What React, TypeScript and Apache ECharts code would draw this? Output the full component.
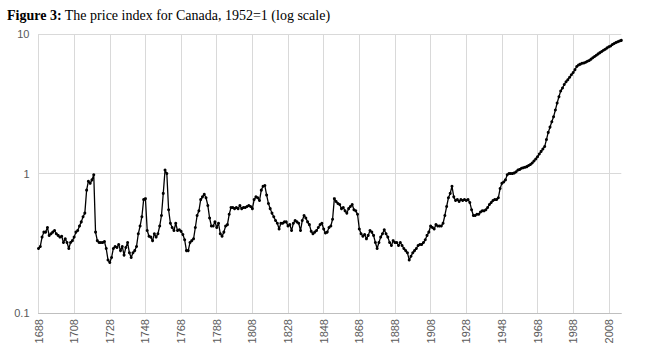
import React, { useEffect, useRef } from "react";
import * as echarts from "echarts";

const START_YEAR = 1688;

// Price index (1952 = 1), one value per year from 1688 to 2015
const priceIndex: number[] = [
  0.29, 0.30, 0.35, 0.38, 0.38, 0.41, 0.36, 0.37, 0.38, 0.39, // 1688-1697
  0.37, 0.36, 0.35, 0.355, 0.32, 0.34, 0.32, 0.29, 0.32, 0.33, // 1698-1707
  0.35, 0.38, 0.39, 0.42, 0.45, 0.49, 0.52, 0.76, 0.88, 0.85, // 1708-1717
  0.90, 0.98, 0.38, 0.33, 0.32, 0.32, 0.32, 0.325, 0.29, 0.24, // 1718-1727
  0.23, 0.25, 0.29, 0.30, 0.295, 0.31, 0.28, 0.30, 0.26, 0.295, // 1728-1737
  0.32, 0.27, 0.25, 0.27, 0.28, 0.30, 0.37, 0.42, 0.49, 0.65, // 1738-1747
  0.66, 0.39, 0.355, 0.35, 0.33, 0.37, 0.35, 0.37, 0.42, 0.50, // 1748-1757
  0.72, 1.06, 1.0, 0.55, 0.44, 0.41, 0.39, 0.44, 0.39, 0.395, // 1758-1767
  0.385, 0.365, 0.335, 0.28, 0.28, 0.32, 0.33, 0.34, 0.41, 0.50, // 1768-1777
  0.54, 0.65, 0.68, 0.71, 0.67, 0.59, 0.48, 0.42, 0.42, 0.45, // 1778-1787
  0.41, 0.44, 0.37, 0.355, 0.38, 0.42, 0.43, 0.51, 0.57, 0.57, // 1788-1797
  0.56, 0.57, 0.56, 0.59, 0.56, 0.57, 0.57, 0.58, 0.59, 0.58, // 1798-1807
  0.56, 0.65, 0.68, 0.67, 0.64, 0.76, 0.81, 0.82, 0.70, 0.61, // 1808-1817
  0.56, 0.52, 0.49, 0.46, 0.44, 0.40, 0.44, 0.44, 0.45, 0.45, // 1818-1827
  0.42, 0.43, 0.39, 0.44, 0.46, 0.45, 0.44, 0.39, 0.46, 0.50, // 1828-1837
  0.48, 0.45, 0.43, 0.385, 0.37, 0.38, 0.39, 0.41, 0.43, 0.44, // 1838-1847
  0.40, 0.375, 0.38, 0.41, 0.42, 0.47, 0.66, 0.63, 0.61, 0.60, // 1848-1857
  0.56, 0.57, 0.54, 0.52, 0.56, 0.58, 0.60, 0.55, 0.54, 0.51, // 1858-1867
  0.40, 0.37, 0.355, 0.365, 0.34, 0.36, 0.39, 0.38, 0.36, 0.32, // 1868-1877
  0.29, 0.32, 0.35, 0.37, 0.395, 0.37, 0.35, 0.32, 0.305, 0.33, // 1878-1887
  0.32, 0.32, 0.305, 0.32, 0.305, 0.29, 0.28, 0.27, 0.24, 0.255, // 1888-1897
  0.27, 0.28, 0.29, 0.305, 0.31, 0.31, 0.32, 0.335, 0.36, 0.38, // 1898-1907
  0.42, 0.41, 0.40, 0.43, 0.42, 0.42, 0.42, 0.44, 0.50, 0.58, // 1908-1917
  0.67, 0.72, 0.81, 0.68, 0.64, 0.65, 0.63, 0.65, 0.64, 0.65, // 1918-1927
  0.64, 0.65, 0.62, 0.55, 0.50, 0.50, 0.51, 0.51, 0.53, 0.54, // 1928-1937
  0.54, 0.55, 0.57, 0.60, 0.62, 0.64, 0.65, 0.65, 0.67, 0.78, // 1938-1947
  0.85, 0.87, 0.90, 0.98, 1.0, 1.0, 1.0, 1.01, 1.03, 1.06, // 1948-1957
  1.07, 1.09, 1.10, 1.11, 1.12, 1.14, 1.16, 1.19, 1.23, 1.27, // 1958-1967
  1.32, 1.38, 1.44, 1.50, 1.56, 1.75, 1.97, 2.15, 2.35, 2.55, // 1968-1977
  2.85, 3.2, 3.55, 3.9, 4.1, 4.35, 4.55, 4.7, 4.9, 5.1, // 1978-1987
  5.3, 5.55, 5.85, 6.0, 6.08, 6.17, 6.2, 6.28, 6.37, 6.45, // 1988-1997
  6.6, 6.75, 6.9, 7.05, 7.2, 7.35, 7.5, 7.65, 7.78, 7.95, // 1998-2007
  8.1, 8.2, 8.4, 8.55, 8.7, 8.8, 8.9, 9.0, // 2008-2015
];

const years: string[] = priceIndex.map((_, i) => String(START_YEAR + i));

const titleBold = "Figure 3:";
const titleRest = " The price index for Canada, 1952=1 (log scale)";

export default function App() {
  const ref = useRef<HTMLDivElement>(null);

  useEffect(() => {
    if (!ref.current) return;
    const chart = echarts.init(ref.current, undefined, { renderer: "svg" });
    chart.setOption({
      animation: false,
      backgroundColor: "#ffffff",
      title: {
        text: `{b|${titleBold}}{n|${titleRest}}`,
        left: 2,
        top: 3,
        textStyle: {
          fontWeight: "normal",
          rich: {
            b: {
              fontFamily: "Liberation Serif",
              fontWeight: "bold",
              fontSize: 14,
              color: "#000",
            },
            n: {
              fontFamily: "Liberation Serif",
              fontWeight: "normal",
              fontSize: 14,
              color: "#000",
            },
          },
        },
      },
      grid: {
        left: 38.5,
        right: 37.7,
        top: 34,
        bottom: 41,
        containLabel: false,
      },
      xAxis: {
        type: "category",
        data: years,
        boundaryGap: false,
        axisLine: { show: true, lineStyle: { color: "#bfbfbf", width: 1 } },
        axisTick: { show: false, interval: 19 },
        axisLabel: {
          interval: 19,
          rotate: 90,
          margin: 6,
          color: "#595959",
          fontFamily: "Liberation Sans",
          fontSize: 11,
        },
        splitLine: {
          show: true,
          interval: 19,
          lineStyle: { color: "#d9d9d9", width: 1 },
        },
      },
      yAxis: {
        type: "log",
        logBase: 10,
        min: 0.1,
        max: 10,
        axisLine: { show: false },
        axisTick: { show: false },
        axisLabel: {
          color: "#595959",
          fontFamily: "Liberation Sans",
          fontSize: 11,
          margin: 9,
        },
        splitLine: { show: true, lineStyle: { color: "#d9d9d9", width: 1 } },
      },
      series: [
        {
          type: "line",
          data: priceIndex,
          showSymbol: true,
          showAllSymbol: true,
          symbol: "circle",
          symbolSize: 3,
          itemStyle: { color: "#000000" },
          lineStyle: { color: "#000000", width: 1.3 },
        },
      ],
    });
    return () => chart.dispose();
  }, []);

  return (
    <div
      ref={ref}
      style={{ position: "fixed", left: 0, top: 0, width: 659, height: 354 }}
    />
  );
}
